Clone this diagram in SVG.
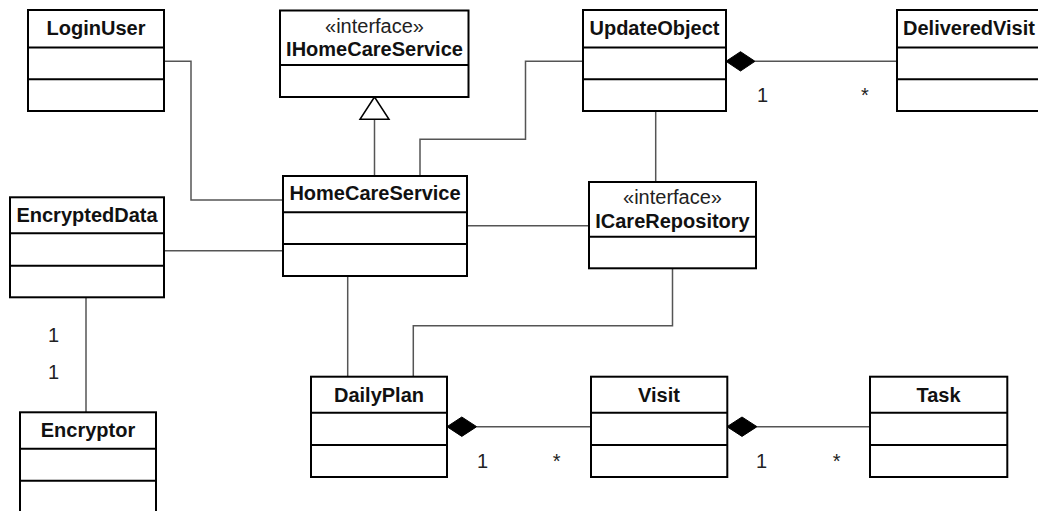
<svg xmlns="http://www.w3.org/2000/svg" width="1038" height="511" viewBox="0 0 1038 511">
  <style>
    .box { fill: #fff; stroke: #000; stroke-width: 2; }
    .sep { stroke: #000; stroke-width: 2; }
    .name { font-family: "Liberation Sans", Arial, sans-serif; font-size: 20px; font-weight: bold; fill: #111; text-anchor: middle; }
    .stereo { font-family: "Liberation Sans", Arial, sans-serif; font-size: 20px; fill: #222; text-anchor: middle; }
    .mult { font-family: "Liberation Sans", Arial, sans-serif; font-size: 20px; fill: #222; }
    .conn { fill: none; stroke: #555; stroke-width: 1.5; }
    .diamond { fill: #000; stroke: #000; stroke-width: 1; }
    .gen { fill: #fff; stroke: #000; stroke-width: 1.5; }
  </style>
  <rect width="1038" height="511" fill="#fff"/>

  <!-- associations, compositions and generalization -->
  <g id="connectors">
    <polyline class="conn" points="164,61.3 191,61.3 191,200 283,200"/>
    <polyline class="conn" points="420,176 420,139.3 525.5,139.3 525.5,61.3 583,61.3"/>
    <line class="conn" x1="467" y1="225.7" x2="589" y2="225.7"/>
    <line class="conn" x1="164" y1="250.7" x2="283" y2="250.7"/>
    <line class="conn" x1="86" y1="297" x2="86" y2="412"/>
    <line class="conn" x1="347.7" y1="276" x2="347.7" y2="377"/>
    <polyline class="conn" points="672.5,268 672.5,325.7 413.3,325.7 413.3,377"/>
    <line class="conn" x1="655.7" y1="111" x2="655.7" y2="182"/>
    <!-- generalization: HomeCareService realizes IHomeCareService -->
    <line class="conn" x1="374.5" y1="119" x2="374.5" y2="176"/>
    <polygon class="gen" points="374.5,97 389,119.3 360,119.3"/>
    <!-- composition: UpdateObject owns DeliveredVisit -->
    <line class="conn" x1="755" y1="61.3" x2="897" y2="61.3"/>
    <polygon class="diamond" points="726,61.3 740.5,51.7 755,61.3 740.5,71"/>
    <!-- composition: DailyPlan owns Visit -->
    <line class="conn" x1="476.7" y1="426.7" x2="591" y2="426.7"/>
    <polygon class="diamond" points="447,426.7 461.8,417 476.7,426.7 461.8,436.4"/>
    <!-- composition: Visit owns Task -->
    <line class="conn" x1="757" y1="426.7" x2="870" y2="426.7"/>
    <polygon class="diamond" points="727,426.7 742,417 757,426.7 742,436.4"/>
    <!-- multiplicities -->
    <text class="mult" x="757" y="102">1</text>
    <text class="mult" x="865" y="102" text-anchor="middle">*</text>
    <text class="mult" x="48" y="342">1</text>
    <text class="mult" x="48" y="379">1</text>
    <text class="mult" x="477" y="468">1</text>
    <text class="mult" x="556.7" y="467.5" text-anchor="middle">*</text>
    <text class="mult" x="756" y="468">1</text>
    <text class="mult" x="836.7" y="467.5" text-anchor="middle">*</text>
  </g>

  <g id="LoginUser">
    <rect class="box" x="28" y="10" width="136" height="101"/>
    <line class="sep" x1="28" y1="47.5" x2="164" y2="47.5"/>
    <line class="sep" x1="28" y1="79.3" x2="164" y2="79.3"/>
    <text class="name" x="96" y="35">LoginUser</text>
  </g>

  <g id="IHomeCareService">
    <rect class="box" x="280" y="10.5" width="188.5" height="86.5"/>
    <line class="sep" x1="280" y1="65" x2="468.5" y2="65"/>
    <text class="stereo" x="374.5" y="32.5">«interface»</text>
    <text class="name" x="374.5" y="56">IHomeCareService</text>
  </g>

  <g id="UpdateObject">
    <rect class="box" x="583" y="10" width="143" height="101"/>
    <line class="sep" x1="583" y1="47.5" x2="726" y2="47.5"/>
    <line class="sep" x1="583" y1="79.3" x2="726" y2="79.3"/>
    <text class="name" x="654.5" y="35">UpdateObject</text>
  </g>

  <g id="DeliveredVisit">
    <rect class="box" x="897" y="10" width="146" height="101"/>
    <line class="sep" x1="897" y1="47.5" x2="1043" y2="47.5"/>
    <line class="sep" x1="897" y1="79.3" x2="1043" y2="79.3"/>
    <text class="name" x="969" y="35">DeliveredVisit</text>
  </g>

  <g id="HomeCareService">
    <rect class="box" x="283" y="176" width="184" height="100"/>
    <line class="sep" x1="283" y1="212.3" x2="467" y2="212.3"/>
    <line class="sep" x1="283" y1="244" x2="467" y2="244"/>
    <text class="name" x="375" y="200">HomeCareService</text>
  </g>

  <g id="EncryptedData">
    <rect class="box" x="10" y="197.3" width="154" height="100"/>
    <line class="sep" x1="10" y1="233.3" x2="164" y2="233.3"/>
    <line class="sep" x1="10" y1="265.7" x2="164" y2="265.7"/>
    <text class="name" x="87" y="221.7">EncryptedData</text>
  </g>

  <g id="ICareRepository">
    <rect class="box" x="589" y="182" width="167" height="86.3"/>
    <line class="sep" x1="589" y1="236.7" x2="756" y2="236.7"/>
    <text class="stereo" x="672.5" y="203.5">«interface»</text>
    <text class="name" x="672.5" y="228.3">ICareRepository</text>
  </g>

  <g id="Encryptor">
    <rect class="box" x="20" y="412.3" width="136" height="101"/>
    <line class="sep" x1="20" y1="448.7" x2="156" y2="448.7"/>
    <line class="sep" x1="20" y1="480.7" x2="156" y2="480.7"/>
    <text class="name" x="88" y="436.7">Encryptor</text>
  </g>

  <g id="DailyPlan">
    <rect class="box" x="311" y="376.7" width="136" height="100.3"/>
    <line class="sep" x1="311" y1="412.7" x2="447" y2="412.7"/>
    <line class="sep" x1="311" y1="445" x2="447" y2="445"/>
    <text class="name" x="379" y="401.7">DailyPlan</text>
  </g>

  <g id="Visit">
    <rect class="box" x="591" y="376.7" width="136.3" height="100.3"/>
    <line class="sep" x1="591" y1="412.7" x2="727.3" y2="412.7"/>
    <line class="sep" x1="591" y1="445" x2="727.3" y2="445"/>
    <text class="name" x="659" y="401.7">Visit</text>
  </g>

  <g id="Task">
    <rect class="box" x="870" y="376.7" width="137.3" height="100.3"/>
    <line class="sep" x1="870" y1="412.7" x2="1007.3" y2="412.7"/>
    <line class="sep" x1="870" y1="445" x2="1007.3" y2="445"/>
    <text class="name" x="938.5" y="401.7">Task</text>
  </g>
</svg>
